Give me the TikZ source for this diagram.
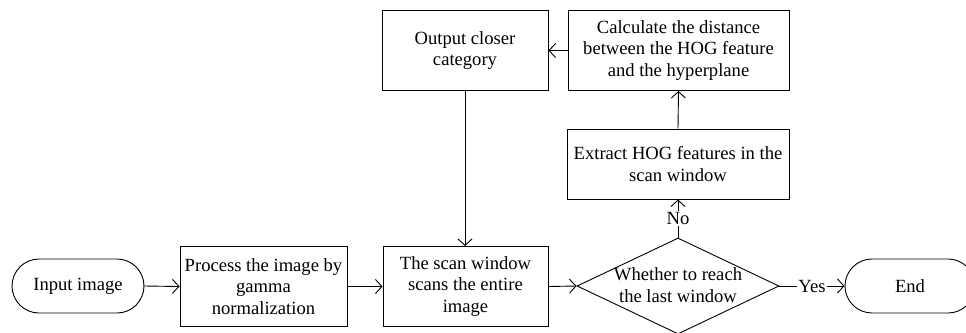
\documentclass[tikz,border=0pt]{standalone}
\usepackage{fontspec}
\setmainfont{Liberation Serif}
\usetikzlibrary{arrows.meta,shapes.geometric,shapes.misc}
\begin{document}
\begin{tikzpicture}[x=1pt,y=-1pt,
  every node/.style={font=\fontsize{18.6}{21.4}\selectfont, align=center},
  box/.style={draw, line width=0.9pt, rectangle, inner sep=0pt},
  term/.style={draw, line width=0.9pt, rounded rectangle, inner sep=0pt, minimum width=132pt, minimum height=54pt},
  conn/.style={line width=0.9pt, -{Straight Barb[length=6.5pt,width=14pt,line width=0.9pt]}},
  lbl/.style={fill=white, inner sep=1pt}
]
\useasboundingbox (0,0) rectangle (966,332);
\node[term] (in) at (78,286) {Input image};
\node[box, minimum width=167pt, minimum height=80pt] (proc) at (263.5,286.5) {Process the image by\\gamma\\normalization};
\node[box, minimum width=165pt, minimum height=80pt] (scan) at (465.5,286.5) {The scan window\\scans the entire\\image};
\node[draw, line width=0.9pt, diamond, inner sep=0pt, minimum width=202pt, minimum height=96pt] (dia) at (678,286) {};
\node (diatext) at (678,285) {Whether to reach\\the last window};
\node[term, minimum width=130pt] (end) at (910,286) {End};
\node[box, minimum width=222pt, minimum height=70pt] (ext) at (678,164) {Extract HOG features in the\\scan window};
\node[box, minimum width=221pt, minimum height=80pt] (calc) at (678.5,50.5) {Calculate the distance\\between the HOG feature\\and the hyperplane};
\node[box, minimum width=166pt, minimum height=80pt] (out) at (465,50.5) {Output closer\\category};

\draw[conn] (in.east) -- (proc.west);
\draw[conn] (proc.east) -- (scan.west);
\draw[conn] (scan.east) -- (dia.west);
\draw[conn] (dia.east) -- node[lbl] {Yes} (end.west);
\draw[conn] (dia.north) -- node[lbl] {No} (ext.south);
\draw[conn] (ext.north) -- (calc.south);
\draw[conn] (calc.west) -- (out.east);
\draw[conn] (out.south) -- (out.south |- scan.north);
\end{tikzpicture}
\end{document}
